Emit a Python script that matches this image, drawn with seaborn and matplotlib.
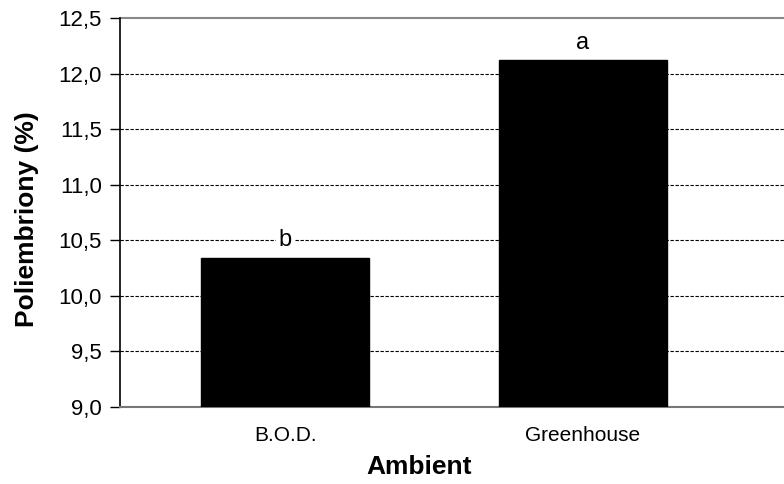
import matplotlib
matplotlib.use("Agg")
import matplotlib.pyplot as plt
import seaborn as sns
import pandas as pd

categories = ["B.O.D.", "Greenhouse"]
values = [10.34, 12.12]
letters = ["b", "a"]
y_ticks = [9.0, 9.5, 10.0, 10.5, 11.0, 11.5, 12.0, 12.5]
y_tick_labels = ["9,0", "9,5", "10,0", "10,5", "11,0", "11,5", "12,0", "12,5"]

sns.set_style("white")
plt.rcParams["font.family"] = ["Liberation Sans", "DejaVu Sans"]
plt.rcParams["text.color"] = "black"
plt.rcParams["axes.labelcolor"] = "black"
plt.rcParams["xtick.color"] = "black"
plt.rcParams["ytick.color"] = "black"

df = pd.DataFrame({"Ambient": categories, "value": values})

fig = plt.figure(figsize=(7.84, 4.84), dpi=100)
ax = fig.add_axes([120 / 784, 1 - 407 / 484, 1 - 120 / 784, (407 - 18) / 484])
sns.barplot(data=df, x="Ambient", y="value", color="black", width=0.565,
            saturation=1, ax=ax, zorder=3)
for p in ax.patches:
    p.set_edgecolor("black")

ax.set_ylim(9.0, 12.5)
ax.set_xlim(-0.555, 1.677)
ax.set_yticks(y_ticks)
ax.set_yticklabels(y_tick_labels, fontsize=16)
ax.tick_params(axis="y", direction="out", length=7, width=1, color="black",
               labelcolor="black", left=True, pad=6)
ax.tick_params(axis="x", length=0, labelsize=15, labelcolor="black", pad=14)

for y in y_ticks[1:-1]:
    ax.axhline(y, color="black", linestyle=(0, (3, 1.5)), linewidth=0.8, zorder=1)
ax.axhline(12.5, color="#888888", linewidth=1.5, zorder=1, clip_on=False)

for s in ["top", "right"]:
    ax.spines[s].set_visible(False)
ax.spines["left"].set_color("black")
ax.spines["left"].set_linewidth(1.2)
ax.spines["bottom"].set_color("#777777")
ax.spines["bottom"].set_linewidth(1.5)

for i, (v, t) in enumerate(zip(values, letters)):
    ax.text(i, v + 0.105, t, ha="center", va="baseline", fontsize=17, zorder=4,
            color="black", bbox=dict(facecolor="white", edgecolor="none", pad=1.5))

ax.set_xlabel("Ambient", fontsize=19, fontweight="bold", color="black")
ax.set_ylabel("Poliembriony (%)", fontsize=19, fontweight="bold", color="black")
ax.xaxis.set_label_coords((419 - 120) / 664, (407 - 455) / 389)
ax.yaxis.set_label_coords((39 - 120) / 664, (407 - 219) / 389)

fig.savefig("out.png", dpi=100)
